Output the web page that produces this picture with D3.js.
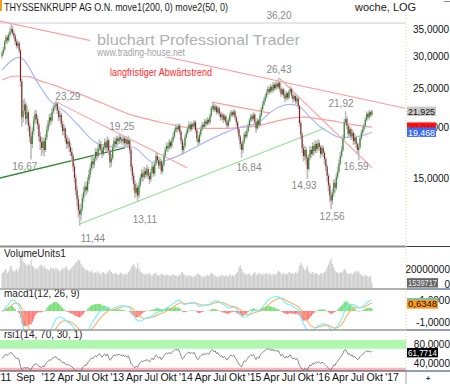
<!DOCTYPE html>
<html><head><meta charset="utf-8">
<script src="https://cdn.jsdelivr.net/npm/d3@7"></script>
<style>body{margin:0;background:#fff}svg{display:block;font-family:"Liberation Sans",Arial,sans-serif}</style>
</head><body><svg id="c" width="450" height="384"></svg>
<script>
// ---------------- DATA (weekly) ----------------
const startDate = new Date(2011, 3, 29);   // first weekly bar
const firstOpen = 30.0;
const closes = [
30.5,31.2,32.5,33.4,32.8,33.9,34.5,35.0,34.2,33.6,
32.6,31.8,32.3,31.0,26.0,21.2,22.0,22.8,21.0,21.8,
20.2,19.0,18.2,19.6,20.8,21.6,21.0,20.3,19.0,18.4,
17.8,18.5,17.6,18.9,19.8,20.5,21.2,20.8,21.9,22.4,
22.6,22.9,22.0,21.2,21.5,20.4,19.6,19.9,18.8,18.2,
18.5,17.9,17.4,17.0,16.0,15.0,14.0,13.3,12.5,12.2,
12.6,13.4,13.9,14.3,14.0,14.8,15.3,15.9,16.5,16.2,
16.8,17.4,17.0,17.8,18.2,17.6,17.2,17.9,18.4,17.8,
18.6,17.5,16.4,16.8,17.9,18.5,18.2,18.8,18.5,18.9,
18.7,18.5,18.8,18.3,18.7,18.2,18.6,17.6,16.0,15.2,
14.5,13.8,14.2,13.6,14.4,15.0,15.4,15.1,15.6,15.3,
15.8,15.2,14.9,15.5,16.0,15.4,16.3,17.0,16.6,16.1,
16.5,15.6,16.2,17.0,17.6,18.0,17.8,18.4,18.0,18.6,
19.0,19.6,20.0,19.8,20.2,19.5,18.6,17.6,18.0,18.9,
19.4,19.9,20.3,19.8,20.4,20.1,20.6,19.7,18.8,18.4,
19.2,19.8,20.3,20.1,20.7,20.4,20.9,20.6,21.4,22.3,
22.6,22.1,22.5,21.8,22.3,21.6,21.2,21.5,20.9,21.3,
20.6,20.2,20.8,21.4,21.8,21.5,21.9,21.2,20.6,19.8,
19.0,18.2,17.6,18.4,19.2,19.0,19.6,20.2,20.8,21.3,
21.0,21.5,20.6,19.9,20.8,20.3,21.4,22.2,22.8,23.3,
23.8,24.4,24.9,24.5,25.2,24.7,25.5,25.0,25.6,25.2,
25.8,24.9,24.2,24.8,24.0,23.6,24.3,23.7,24.5,24.9,
24.0,23.5,23.9,23.2,23.6,22.6,20.5,19.2,17.8,17.0,
17.6,16.8,15.8,16.9,17.6,17.2,18.0,17.5,18.2,17.7,
18.3,17.9,17.2,17.8,17.3,16.7,16.0,15.2,14.4,13.6,
13.2,13.8,14.6,14.2,15.1,15.6,16.3,17.0,17.6,18.8,
20.6,21.0,20.2,19.3,19.8,19.0,19.4,18.5,18.9,18.2,
17.6,17.9,18.8,19.4,19.8,20.2,20.9,21.6,21.2,21.8,21.5,21.925];
const highs = [
30.9,31.6,32.9,33.9,33.8,34.3,35.2,36.2,35.6,34.6,
34.0,33.1,32.8,32.6,31.3,26.4,23.4,23.6,23.1,22.6,
22.1,20.6,19.4,20.0,21.3,22.0,22.1,21.4,20.6,19.5,
18.9,18.9,18.8,19.3,20.2,20.9,21.6,21.7,22.3,22.8,
23.1,23.29,23.1,22.3,22.0,21.7,20.8,20.4,20.1,19.2,
19.0,18.8,18.3,17.8,17.2,16.3,15.3,14.3,13.6,12.9,
13.0,13.7,14.3,14.7,14.6,15.1,15.7,16.3,16.9,16.9,
17.2,17.8,17.7,18.2,18.7,18.5,17.9,18.2,18.8,18.6,
19.0,18.8,17.7,17.2,18.2,18.9,18.8,19.1,19.0,19.2,
19.25,19.0,19.1,19.0,19.0,18.9,19.1,18.8,17.8,16.3,
15.5,14.8,14.6,14.4,14.7,15.3,15.8,15.7,16.0,15.9,
16.2,16.0,15.5,15.8,16.4,16.2,16.6,17.4,17.3,16.9,
16.9,16.7,16.5,17.3,17.9,18.4,18.3,18.7,18.6,18.9,
19.4,19.9,20.4,20.3,20.5,20.4,19.7,18.8,18.3,19.2,
19.7,20.2,20.7,20.5,20.7,20.6,20.9,20.8,19.9,19.1,
19.5,20.1,20.6,20.6,21.0,20.9,21.2,21.1,21.7,22.6,
23.0,22.9,22.8,22.7,22.6,22.5,21.9,21.8,21.7,21.6,
21.5,20.9,21.1,21.7,22.1,22.0,22.2,22.1,21.4,20.8,
20.0,19.2,18.5,18.7,19.5,19.6,19.9,20.5,21.1,21.6,
21.6,21.8,21.7,20.8,21.1,21.0,21.7,22.5,23.2,23.7,
24.2,24.8,25.3,25.2,25.6,25.4,25.9,25.8,26.0,25.9,
26.43,26.0,25.1,25.1,25.0,24.3,24.6,24.5,24.8,25.3,
25.1,24.2,24.3,24.1,24.0,23.8,22.8,20.8,19.5,18.2,
18.0,17.9,17.1,17.2,18.0,17.9,18.4,18.3,18.6,18.5,
18.7,18.6,18.1,18.1,18.0,17.5,16.9,16.2,15.4,14.6,
13.9,14.1,14.9,14.9,15.4,16.0,16.7,17.4,18.0,19.2,
21.0,21.92,21.3,20.4,20.2,20.0,19.8,19.6,19.3,19.1,
18.4,18.3,19.1,19.7,20.1,20.5,21.2,21.9,21.8,22.1,22.0,22.1];
const lows = [
29.6,30.1,30.9,32.1,32.2,32.5,33.5,34.1,33.7,33.0,
32.0,31.3,31.4,30.5,25.2,20.1,20.6,21.5,20.3,20.5,
19.6,18.4,16.67,17.8,19.2,20.4,20.5,19.8,18.5,17.6,
17.0,17.3,17.0,17.4,18.6,19.5,20.1,20.3,20.6,21.6,
22.0,22.2,21.6,20.7,20.8,20.0,19.1,19.2,18.4,17.7,
17.8,17.4,17.0,16.5,15.6,14.6,13.6,12.8,12.0,11.44,
11.8,12.4,13.1,13.6,13.6,13.8,14.5,15.0,15.6,15.8,
15.9,16.5,16.6,16.8,17.5,17.2,16.8,17.0,17.6,17.4,
17.5,17.1,15.9,16.0,16.6,17.6,17.8,17.9,18.1,18.2,
18.3,18.1,18.2,17.9,18.0,17.8,17.9,17.2,15.6,14.8,
14.0,13.4,13.5,13.11,13.4,14.2,14.7,14.7,14.9,15.0,
15.1,14.9,14.5,14.7,15.3,15.1,15.2,16.1,16.3,15.8,
15.8,15.3,15.4,16.0,16.8,17.4,17.4,17.6,17.7,17.8,
18.4,18.8,19.4,19.4,19.6,19.2,18.2,17.1,17.3,17.8,
18.7,19.2,19.7,19.5,19.6,19.8,19.9,19.4,18.4,18.0,
18.2,19.0,19.6,19.8,19.9,20.1,20.2,20.3,20.4,21.2,
22.0,21.8,21.9,21.5,21.6,21.3,20.8,20.9,20.5,20.7,
20.3,19.9,20.0,20.6,21.2,21.2,21.3,20.9,20.2,19.4,
18.6,17.7,16.84,17.3,18.2,18.7,18.8,19.4,20.0,20.6,
20.7,20.8,20.3,19.4,19.7,20.0,20.1,21.2,22.0,22.6,
23.1,23.6,24.1,24.1,24.3,24.3,24.5,24.6,24.8,24.8,
25.0,24.5,23.8,24.0,23.6,23.1,23.4,23.3,23.5,24.2,
23.6,23.0,23.2,22.8,22.9,22.2,20.1,18.7,17.3,16.5,
16.6,16.2,14.93,15.6,16.6,16.8,17.0,17.1,17.3,17.3,
17.5,17.5,16.8,17.0,16.9,16.2,15.6,14.7,13.9,13.1,
12.56,12.9,13.5,13.8,14.0,14.9,15.4,16.1,16.8,17.4,
18.6,20.3,19.8,18.9,19.0,18.6,18.7,18.1,18.2,17.8,
17.1,16.59,17.7,18.6,19.2,19.6,20.0,20.7,20.9,21.0,21.2,21.3];
// weekly volume, millions of shares
const volumes = [
14,16,18,20,15,17,22,24,19,16, 18,20,17,22,38,42,30,28,26,24,
27,25,32,24,22,20,21,19,23,25, 26,22,24,21,20,19,18,22,20,21,
19,22,20,18,17,19,21,20,22,24, 19,18,20,22,24,26,28,30,33,31,
27,24,22,20,18,19,17,16,18,15, 14,16,15,17,14,13,15,16,14,13,
15,17,19,16,14,13,15,14,12,13, 15,14,13,12,14,13,16,18,22,24,
26,23,20,28,21,17,15,14,13,12, 14,13,15,12,11,13,14,15,12,11,
12,14,13,12,11,13,12,11,10,12, 13,11,12,10,11,12,14,16,13,12,
11,10,12,11,10,9,11,10,13,14, 12,11,10,9,11,10,12,11,13,15,
14,12,11,10,9,11,10,12,11,10, 12,11,10,13,11,12,10,12,14,16,
22,25,20,16,14,13,12,14,13,11, 12,14,16,13,12,15,14,13,12,14,
13,15,12,14,13,11,14,12,13,15, 18,16,14,13,15,12,14,13,16,15,
14,15,13,16,14,17,24,28,26,22, 18,20,24,17,15,14,16,13,15,14,
13,12,14,15,13,16,18,22,26,30, 34,27,22,18,16,15,14,16,15,17,
20,18,15,14,13,15,12,14,16,18, 15,17,13,12,11,10,12,11,10,9,11,1.54];
// moving averages: [week index, value]
const ma200 = [[0,26.2],[10,26.8],[20,26.7],[30,26.0],[40,25.4],[50,24.7],[60,24.1],[70,23.4],[80,22.7],[90,22.0],
  [100,21.4],[110,21.0],[120,20.6],[130,20.3],[140,20.0],[150,19.9],[160,19.9],[170,19.9],[180,20.0],[190,20.1],
  [200,20.4],[210,20.8],[220,21.1],[230,21.2],[240,21.0],[250,20.8],[260,20.5],[270,20.25],[281,20.046]];
const ma50 = [[0,27.7],[13,29.8],[29,25.2],[36,23.4],[49,21.7],[57,20.4],[72,18.3],[86,17.9],[99,17.9],[115,16.4],
  [125,16.6],[140,17.4],[150,18.1],[160,18.8],[169,19.4],[181,20.05],[194,20.5],[204,21.8],[211,22.5],[219,22.8],
  [226,22.5],[234,21.2],[242,20.05],[249,19.4],[257,18.9],[265,18.9],[270,19.0],[276,19.2],[281,19.468]];
// drawn trend lines: pairs of [week index, price]
const downTrendLong = [[-1.75,36.6],[306.3,22.3]];
const resistance3620 = 36.20;
const pinkTrends = [[[41.6,23.1],[140.5,15.9]], [[159.5,23.1],[203.6,21.7]], [[210.4,26.5],[281.2,15.9]]];
const darkGreenTrend = [[-1.75,15.0],[93.3,17.8]];
const lightGreenTrend = [[59.1,11.56],[245.4,19.94]];
// price annotations: text, week index, price (where the text sits)
const annotations = [["16,67",17.3,15.7],["23,29",50,23.4],["19,25",91,19.7],["11,44",69,10.43],["13,11",108.5,11.62],
  ["16,84",187.6,15.6],["26,43",210.4,27.25],["14,93",229.5,14.1],["12,56",250.8,11.8],["21,92",257.6,22.5],
  ["16,59",269,15.7],["36,20",210.4,37.0]];
const priceTicks = [15,20,25,30,35];
const priceTickLabels = ["15,0000","20,0000","25,0000","30,0000","35,0000"];
const xTickLabels = ["'11","Sep","'12","Apr","Jul","Okt","'13","Apr","Jul","Okt","'14","Apr","Jul","Okt","'15","Apr","Jul","Okt","'16","Apr","Jul","Okt","'17"];
const xTickDates = ["2011-01-01","2011-09-01","2012-01-01","2012-04-01","2012-07-01","2012-10-01","2013-01-01","2013-04-01","2013-07-01","2013-10-01",
  "2014-01-01","2014-04-01","2014-07-01","2014-10-01","2015-01-01","2015-04-01","2015-07-01","2015-10-01","2016-01-01","2016-04-01","2016-07-01","2016-10-01","2017-01-01"];
const lastValues = {close:21.925, ma200:20.046, ma50:19.468, volume:1539717, macd:0.75, signal:0.6348, rsi:61.7714};

// ---------------- DRAWING ----------------
const svg = d3.select("#c");
const defs = svg.append("defs");
function clip(id,x,y,w,h){defs.append("clipPath").attr("id",id).append("rect").attr("x",x).attr("y",y).attr("width",w).attr("height",h);}
clip("cMain",0,14,406,232); clip("cVol",0,248,406,40); clip("cMacd",0,290,406,40); clip("cRsi",0,340,406,31);

const dateAt = i => new Date(startDate.getTime() + i*7*864e5);
const x = d3.scaleTime().domain([new Date(2012,0,1), new Date(2017,0,1)]).range([48.5,392]);
const xi = i => x(dateAt(i));
const y = d3.scaleLog().domain([15,35]).range([178.1,29]);
const yV = d3.scaleLinear().domain([0,20]).range([284,269]);
const yM = d3.scaleLinear().domain([-1,1]).range([322,300]);
const yR = d3.scaleLinear().domain([40,80]).range([363,344]);

// indicators derived from the closes
function ema(arr,n){const k=2/(n+1);let e=arr[0];return arr.map(v=>(e=v*k+e*(1-k)));}
const e12=ema(closes,12), e26=ema(closes,26);
const macd=closes.map((c,i)=>e12[i]-e26[i]);
const signal=ema(macd,9);
const hist=macd.map((m,i)=>m-signal[i]);
// Wilder RSI(14), started from neutral average gain/loss
const rsi=[];{let ag=0.6,al=0.6;closes.forEach((c,i)=>{if(i>0){const ch=c-closes[i-1];ag=(ag*13+Math.max(ch,0))/14;al=(al*13+Math.max(-ch,0))/14;}
  rsi.push(100-100/(1+ag/al));});}
const opens = closes.map((c,i)=> i ? closes[i-1] : firstOpen);

// title row
svg.append("rect").attr("x",0).attr("y",0).attr("width",2).attr("height",11).attr("fill","#f0a020");
svg.append("text").attr("x",4).attr("y",11).attr("font-size",11).attr("fill","#1a1a1a")
  .attr("textLength",224).attr("lengthAdjust","spacingAndGlyphs").text("THYSSENKRUPP AG O.N. move1(200, 0) move2(50, 0)");
svg.append("text").attr("x",355).attr("y",11).attr("font-size",11).attr("fill","#1a1a1a").text("woche, LOG");
svg.append("line").attr("x1",444).attr("x2",450).attr("y1",1.5).attr("y2",1.5).attr("stroke","#888");

// main panel
const gm = svg.append("g").attr("clip-path","url(#cMain)");
gm.append("path").datum(ma200).attr("d",d3.line().x(d=>xi(d[0])).y(d=>y(d[1])).curve(d3.curveMonotoneX)).attr("fill","none").attr("stroke","#ff9c9c").attr("stroke-width",1.2);
gm.append("path").datum(ma50).attr("d",d3.line().x(d=>xi(d[0])).y(d=>y(d[1])).curve(d3.curveMonotoneX)).attr("fill","none").attr("stroke","#a8b8ff").attr("stroke-width",1.2);
const lin = d3.line().x(d=>xi(d[0])).y(d=>y(d[1]));
gm.append("line").attr("x1",0).attr("x2",406).attr("y1",y(resistance3620)).attr("y2",y(resistance3620)).attr("stroke","#cfcfcf").attr("stroke-width",1);
gm.append("path").attr("d",lin(downTrendLong)).attr("stroke","#ff9c9c").attr("stroke-width",1.1).attr("fill","none");
pinkTrends.forEach(t=>gm.append("path").attr("d",lin(t)).attr("stroke","#ff9c9c").attr("stroke-width",1.1).attr("fill","none"));
gm.append("path").attr("d",lin(darkGreenTrend)).attr("stroke","#2e8a2e").attr("stroke-width",1.3).attr("fill","none");
gm.append("path").attr("d",lin(lightGreenTrend)).attr("stroke","#93e093").attr("stroke-width",1.1).attr("fill","none");

// watermark
gm.append("rect").attr("x",90).attr("y",29).attr("width",212).attr("height",28).attr("fill","#fff");
gm.append("text").attr("x",97).attr("y",45).attr("font-size",15).attr("fill","#b0b0b0").attr("textLength",203).attr("lengthAdjust","spacingAndGlyphs").text("bluchart Professional Trader");
gm.append("text").attr("x",97).attr("y",56).attr("font-size",10).attr("fill","#a4a4a4").attr("textLength",88).attr("lengthAdjust","spacingAndGlyphs").text("www.trading-house.net");
gm.append("text").attr("x",110).attr("y",76).attr("font-size",10.5).attr("fill","#ff2a2a").attr("textLength",102).attr("lengthAdjust","spacingAndGlyphs").text("langfristiger Abwärtstrend");

// candles
const cg = gm.append("g");
cg.selectAll("rect.w").data(closes).join("rect").attr("x",(d,i)=>xi(i)-0.8).attr("width",1.6)
  .attr("y",(d,i)=>y(highs[i])).attr("height",(d,i)=>Math.max(1,y(lows[i])-y(highs[i]))).attr("fill","#bdbdbd");
cg.selectAll("rect.b").data(closes).join("rect").attr("x",(d,i)=>xi(i)-0.5).attr("width",1)
  .attr("y",(d,i)=>y(Math.max(d,opens[i]))).attr("height",(d,i)=>Math.max(0.8,Math.abs(y(d)-y(opens[i]))))
  .attr("fill",(d,i)=>d>=opens[i]?"#1f8a1f":"#8a1c1c");

// annotations (not clipped)
svg.append("g").selectAll("text").data(annotations).join("text").attr("x",d=>xi(d[1])).attr("y",d=>y(d[2]))
  .attr("text-anchor","middle").attr("font-size",10).attr("fill","#8a8a8a").text(d=>d[0]);

// volume
const gv = svg.append("g").attr("clip-path","url(#cVol)");
gv.selectAll("rect").data(volumes).join("rect").attr("x",(d,i)=>xi(i)-0.66).attr("width",1.32)
  .attr("y",d=>yV(d)).attr("height",d=>yV(0)-yV(d)+4).attr("fill","#cfcfcf");
svg.append("text").attr("x",4).attr("y",257).attr("font-size",10).attr("fill","#222").text("VolumeUnits1");

// macd
const gmc = svg.append("g").attr("clip-path","url(#cMacd)");
gmc.selectAll("rect").data(hist).join("rect").attr("x",(d,i)=>xi(i)-0.7).attr("width",1.4)
  .attr("y",d=>Math.min(yM(d),yM(0))).attr("height",d=>Math.abs(yM(d)-yM(0))).attr("fill",d=>d>=0?"#78e078":"#ff7a7a");
gmc.append("path").datum(signal).attr("d",d3.line().x((d,i)=>xi(i)).y(d=>yM(d))).attr("fill","none").attr("stroke","#ffb060").attr("stroke-width",1.1);
gmc.append("path").datum(macd).attr("d",d3.line().x((d,i)=>xi(i)).y(d=>yM(d))).attr("fill","none").attr("stroke","#6ff0ff").attr("stroke-width",1.1);
svg.append("text").attr("x",4).attr("y",297).attr("font-size",10).attr("fill","#222").text("macd1(12, 26, 9)");

// rsi
const gr = svg.append("g").attr("clip-path","url(#cRsi)");
gr.append("rect").attr("x",0).attr("width",406).attr("y",340).attr("height",yR(70)-340).attr("fill","#b0f8b0");
gr.append("rect").attr("x",0).attr("width",406).attr("y",yR(30)).attr("height",371-yR(30)).attr("fill","#ffb4b4");
gr.append("path").datum(rsi).attr("d",d3.line().x((d,i)=>xi(i)).y(d=>yR(d))).attr("fill","none").attr("stroke","#7a7a7a").attr("stroke-width",0.9);
svg.append("text").attr("x",4).attr("y",338).attr("font-size",10).attr("fill","#222").text("rsi1(14, 70, 30, 1)");

// separators
svg.append("line").attr("x1",0).attr("x2",406).attr("y1",246.5).attr("y2",246.5).attr("stroke","#8c8c8c").attr("stroke-width",2);
[289,330].forEach(v=>svg.append("line").attr("x1",0).attr("x2",406).attr("y1",v).attr("y2",v).attr("stroke","#999").attr("stroke-width",1.5));
[246.5,289,330].forEach(v=>svg.append("line").attr("x1",406).attr("x2",450).attr("y1",v).attr("y2",v).attr("stroke","#2b3a6b").attr("stroke-width",1));
svg.append("line").attr("x1",0).attr("x2",450).attr("y1",371).attr("y2",371).attr("stroke","#2b3a6b").attr("stroke-width",1);
svg.append("line").attr("x1",406).attr("x2",406).attr("y1",12).attr("y2",371).attr("stroke","#e3d08a").attr("stroke-dasharray","1,2");
svg.append("line").attr("x1",406).attr("x2",406).attr("y1",371).attr("y2",384).attr("stroke","#9aa0b8");
svg.append("text").attr("x",428).attr("y",381).attr("text-anchor","middle").attr("font-size",8).attr("font-weight","bold").attr("fill","#1a2a8a").text("+");

// right axes
const ra = svg.append("g").attr("font-size",10).attr("fill","#111");
priceTicks.forEach((p,k)=>ra.append("text").attr("x",413).attr("y",y(p)+3.5).text(priceTickLabels[k]));
ra.append("text").attr("x",450).attr("y",yV(20)+3.5).attr("text-anchor","end").text("20000000");
ra.append("text").attr("x",450).attr("y",yV(0)+3.5).attr("text-anchor","end").text("0");
ra.append("text").attr("x",450).attr("y",yM(1)+3.5).attr("text-anchor","end").text("1,0000");
ra.append("text").attr("x",450).attr("y",yM(-1)+3.5).attr("text-anchor","end").text("-1,0000");
ra.append("text").attr("x",450).attr("y",yR(80)+3.5).attr("text-anchor","end").text("80,0000");
ra.append("text").attr("x",450).attr("y",yR(40)+3.5).attr("text-anchor","end").text("40,0000");
function box(cy,w,bg,fg,txt){ra.append("rect").attr("x",407).attr("y",cy-4.7).attr("width",w).attr("height",9.4).attr("fill",bg);
  if(txt) ra.append("text").attr("x",408).attr("y",cy+3.4).attr("font-size",9.5).attr("fill",fg)
    .attr("textLength",w-2).attr("lengthAdjust","spacingAndGlyphs").text(txt);}
const fmt = v=>String(v).replace(".",",");
box(y(lastValues.close),29,"#c8c8c8","#111",fmt(lastValues.close));
box(y(lastValues.ma200),29,"#ff1a1a","#c00",fmt(lastValues.ma200));
box(y(lastValues.ma50),29,"#3c6cf0","#fff",fmt(lastValues.ma50));
box(yV(lastValues.volume/1e6),31,"#666","#eee",String(lastValues.volume));
box(yM(lastValues.macd),31,"#33dddd","#111","");
box(yM(lastValues.signal),31,"#ff9a20","#111",fmt(lastValues.signal));
box(yR(lastValues.rsi),31,"#000","#fff",fmt(lastValues.rsi));

// x axis
svg.append("g").selectAll("text").data(xTickLabels).join("text")
  .attr("x",(d,k)=>Math.max(5,x(new Date(xTickDates[k]+"T00:00:00"))))
  .attr("y",381).attr("text-anchor","middle").attr("font-size",10.5).attr("fill","#111").text(d=>d);
</script></body></html>
